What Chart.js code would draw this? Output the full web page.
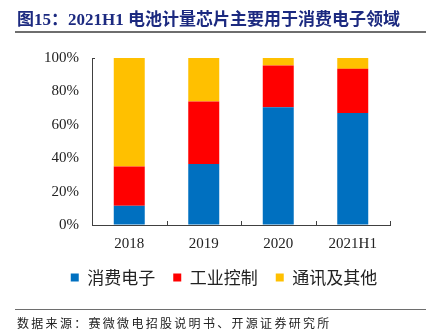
<!DOCTYPE html>
<html>
<head>
<meta charset="utf-8">
<script src="https://cdn.jsdelivr.net/npm/chart.js@4/dist/chart.umd.min.js"></script>
<style>
  html, body { margin: 0; padding: 0; background: #fff; }
  #wrap { position: relative; width: 426px; height: 334px; overflow: hidden; }
  #title {
    position: absolute; left: 17px; top: 9px; white-space: nowrap;
    font: bold 17px "Liberation Serif", "Noto Sans CJK SC", serif;
    color: #1c2a80; line-height: 22px;
  }
  #titleRule { position: absolute; left: 15px; right: 0; top: 31px; height: 2px; background: #6e6e6e; }
  #footRule { position: absolute; left: 15px; right: 0; top: 309px; height: 1px; background: #6e6e6e; }
  #foot {
    position: absolute; left: 17px; top: 314px; white-space: nowrap;
    font: 12px "Noto Sans CJK SC", sans-serif; letter-spacing: 2.3px;
    color: #222; line-height: 18px;
  }
  canvas { position: absolute; left: 0; top: 0; }
</style>
</head>
<body>
<div id="wrap">
  <canvas id="c" width="426" height="334"></canvas>
  <div id="title">图15：2021H1 电池计量芯片主要用于消费电子领域</div>
  <div id="titleRule"></div>
  <div id="footRule"></div>
  <div id="foot">数据来源：赛微微电招股说明书、开源证券研究所</div>
</div>
<script>
// Share of battery fuel-gauge chip revenue by application (%)
const categories = ['2018', '2019', '2020', '2021H1'];
const consumerElectronics = [11.5, 36.5, 70.5, 67];
const industrialControl = [23.5, 37.5, 25, 26.5];
const telecomAndOther = [65, 26, 4.5, 6.5];
const yTicks = [0, 20, 40, 60, 80, 100];
const seriesNames = ['消费电子', '工业控制', '通讯及其他'];

// Short inward tick marks: category boundaries on x, and the top of the y axis
const axisTicks = {
  id: 'axisTicks',
  afterDraw(chart) {
    const x = chart.scales.x;
    const y = chart.scales.y;
    const ctx = chart.ctx;
    ctx.save();
    ctx.strokeStyle = '#404040';
    ctx.lineWidth = 1;
    for (let i = 0; i < categories.length; i++) {
      const px = Math.round(x.getPixelForValue(i + 0.5)) + 0.5;
      ctx.beginPath();
      ctx.moveTo(px, x.top);
      ctx.lineTo(px, x.top - 4);
      ctx.stroke();
    }
    const py = Math.round(y.getPixelForValue(yTicks[yTicks.length - 1])) + 0.5;
    ctx.beginPath();
    ctx.moveTo(y.right, py);
    ctx.lineTo(y.right + 3, py);
    ctx.stroke();
    ctx.restore();
  }
};

new Chart(document.getElementById('c'), {
  type: 'bar',
  data: {
    labels: categories,
    datasets: [
      { label: seriesNames[0], data: consumerElectronics, backgroundColor: '#0070C0' },
      { label: seriesNames[1], data: industrialControl, backgroundColor: '#FF0000' },
      { label: seriesNames[2], data: telecomAndOther, backgroundColor: '#FFC000' }
    ]
  },
  options: {
    responsive: false,
    animation: false,
    devicePixelRatio: 1,
    layout: { padding: { left: 22, right: 0, top: 58, bottom: 38 } },
    datasets: { bar: { categoryPercentage: 1, barPercentage: 0.416 } },
    scales: {
      x: {
        stacked: true,
        grid: { display: true, drawOnChartArea: false, drawTicks: false },
        border: { display: true, color: '#404040', width: 1 },
        ticks: { color: '#222', padding: 10, font: { family: 'Liberation Serif', size: 15 } },
        afterFit(s) { s.height = 26; }
      },
      y: {
        stacked: true,
        min: 0,
        max: 100,
        afterBuildTicks(s) { s.ticks = yTicks.map(v => ({ value: v })); },
        grid: { display: true, drawOnChartArea: false, drawTicks: false },
        border: { display: true, color: '#404040', width: 1 },
        ticks: {
          color: '#222', padding: 13,
          font: { family: 'Liberation Serif', size: 15 },
          callback: v => v + '%'
        },
        afterFit(s) { s.width = 70; }
      },
      // empty right-hand margin beside the plot
      yRight: {
        position: 'right',
        grid: { display: false },
        border: { display: false },
        ticks: { display: false },
        afterFit(s) { s.width = 36; }
      }
    },
    plugins: {
      legend: {
        position: 'bottom',
        labels: {
          boxWidth: 8, boxHeight: 8, padding: 18, color: '#222',
          font: { family: 'Noto Sans CJK SC', size: 17 }
        }
      },
      tooltip: { enabled: false }
    }
  },
  plugins: [axisTicks]
});
</script>
</body>
</html>
